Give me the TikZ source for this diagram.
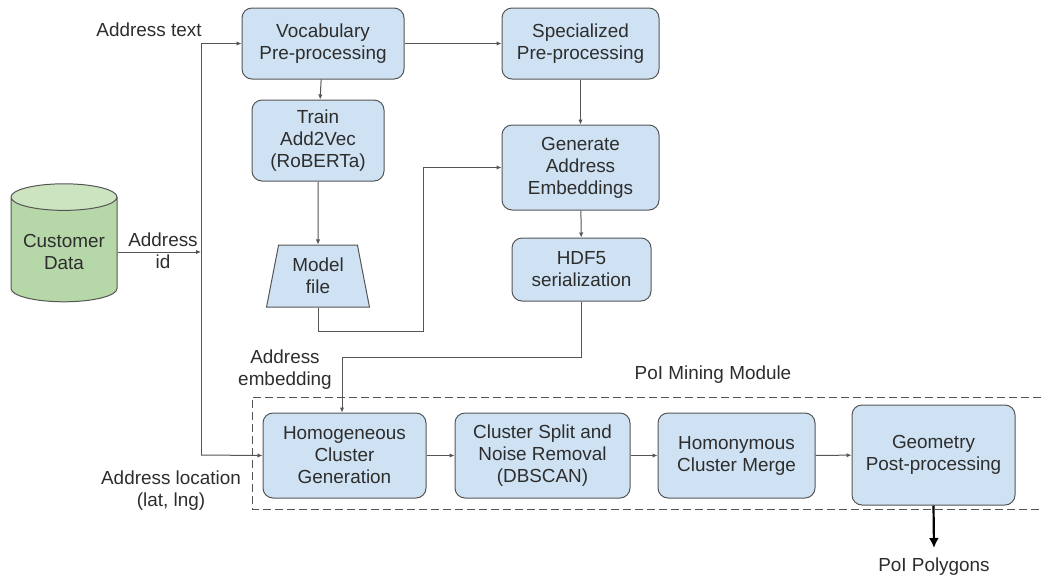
\documentclass[tikz,border=0pt]{standalone}
\usepackage{fontspec}
\setmainfont{Liberation Sans}
\usepackage{xcolor}
\usetikzlibrary{shapes.geometric,arrows.meta,positioning,calc}
\definecolor{poiblue}{RGB}{207,226,243}
\definecolor{poigreen}{RGB}{182,215,168}
\definecolor{poitop}{RGB}{204,228,192}
\definecolor{poiline}{RGB}{85,85,85}
\definecolor{poitext}{RGB}{45,45,45}

\begin{document}
\begin{tikzpicture}[
  x=1pt, y=-1pt,
  font=\fontsize{18.9}{22}\selectfont, text=poitext,
  arrow/.style={-{Latex[length=5pt,width=4.5pt]}, line width=1pt, draw=poiline},
  outarrow/.style={-{Latex[length=10pt,width=10pt]}, line width=2.2pt, draw=black},
  box/.style={rectangle, draw=poiline, rounded corners=10pt,
              fill=poiblue, line width=1pt, align=center, inner sep=2pt},
  lbl/.style={align=center, inner sep=0pt}
]
\useasboundingbox (0,0) rectangle (1041,582);

% --- Embedding pipeline ---
\node[box, minimum width=162, minimum height=71] (vocab) at (323,43.5) {Vocabulary\\Pre-processing};
\node[box, minimum width=157, minimum height=71] (spec) at (580.5,43.5) {Specialized\\Pre-processing};
\node[box, minimum width=132, minimum height=81] (train) at (318,140.5) {Train\\Add2Vec\\(RoBERTa)};
\node[box, minimum width=157, minimum height=85] (gen) at (580.5,167.5) {Generate\\Address\\Embeddings};
\node[box, minimum width=139, minimum height=63] (hdf) at (581.5,269.5) {HDF5\\serialization};
\node[trapezium, trapezium angle=78, trapezium stretches=true, draw=poiline,
      fill=poiblue, line width=1pt, align=center, inner sep=2pt,
      minimum width=103, minimum height=62] (model) at (318,276) {Model\\file};

% --- Customer data ---
\node[cylinder, shape border rotate=90, aspect=0.3, draw=poiline, line width=1pt,
      cylinder uses custom fill, cylinder body fill=poigreen, cylinder end fill=poitop,
      minimum width=106, minimum height=118, align=center] (cust) at (64,252) {Customer\\Data};
\coordinate (bus) at (201,455);

% --- PoI mining module ---
\node[box, minimum width=163, minimum height=85] (homog) at (344.5,455.5) {Homogeneous\\Cluster\\Generation};
\node[box, minimum width=175, minimum height=85] (split) at (542.5,455.5) {Cluster Split and\\Noise Removal\\(DBSCAN)};
\node[box, minimum width=157, minimum height=85] (homon) at (736.5,455.5) {Homonymous\\Cluster Merge};
\node[box, minimum width=163, minimum height=100] (geom) at (933.5,455) {Geometry\\Post-processing};
\draw[dashed, dash pattern=on 8pt off 4pt, line width=1pt, draw=poiline]
  (1041,397) -- (252,397) -- (252,509) -- (1041,509);

% --- Labels ---
\node[lbl] (ltext) at (149,30) {Address text};
\node[lbl] (lid) at (163,251) {Address\\id};
\node[lbl] (lemb) at (285,370) {Address\\embedding};
\node[lbl] (lloc) at (171,491) {Address location\\(lat, lng)};
\node[lbl] (lmod) at (713,375) {PoI Mining Module};
\node[lbl] (polys) at (934,567) {PoI Polygons};

% --- Arrows ---
\draw[arrow] (cust.east) -- (cust.east -| bus);
\draw[arrow] (bus) |- (vocab.west);
\draw[arrow] (bus) -- (homog.west);
\draw[arrow] (vocab) -- (spec);
\draw[arrow] (vocab) -- (train);
\draw[arrow] (train) -- (model);
\draw[arrow] (spec) -- (gen);
\draw[arrow] (gen) -- (hdf);
\draw[arrow] (model.south) -- ++(0,24) -| ($(gen.west)+(-78,0)$) -- (gen.west);
\draw[arrow] (hdf.south) -- ++(0,56) -| ($(homog.north)+(-2.5,0)$);
\draw[arrow] (homog) -- (split);
\draw[arrow] (split) -- (homon);
\draw[arrow] (homon) -- (geom);
\draw[outarrow] (geom.south) -- ($(polys.north)+(0,-10)$);

\end{tikzpicture}
\end{document}
